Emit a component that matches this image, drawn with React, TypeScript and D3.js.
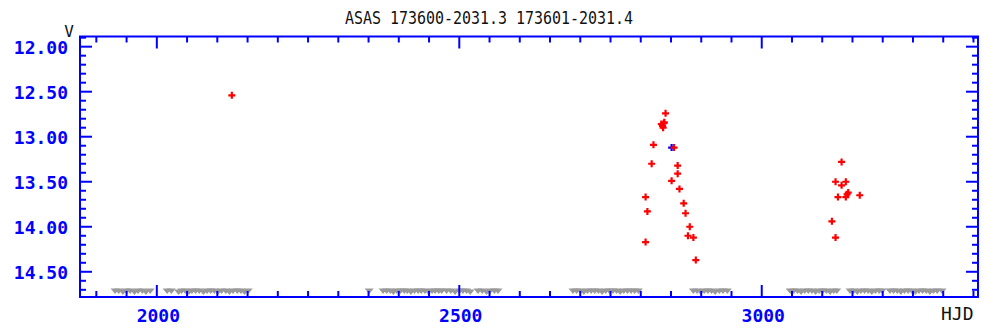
import React from "react";
import * as d3 from "d3";

// ASAS light curve, V magnitude against HJD - 2450000
const title = "ASAS 173600-2031.3 173601-2031.4";
const xTickLabels = [2000, 2500, 3000];
const yTickLabels = [12.0, 12.5, 13.0, 13.5, 14.0, 14.5];

// good measurements (red)
const detections: [number, number][] = [
  [2124, 12.54],
  [2841, 12.74],
  [2834, 12.86],
  [2836, 12.88],
  [2837, 12.9],
  [2838, 12.85],
  [2839, 12.84],
  [2821, 13.09],
  [2855, 13.12],
  [2818, 13.3],
  [2861, 13.32],
  [2861, 13.41],
  [2851, 13.49],
  [2864, 13.58],
  [2808, 13.67],
  [2871, 13.74],
  [2811, 13.83],
  [2874, 13.85],
  [2881, 14.0],
  [2878, 14.1],
  [2887, 14.12],
  [2808, 14.17],
  [2891, 14.37],
  [3132, 13.28],
  [3122, 13.5],
  [3139, 13.5],
  [3132, 13.54],
  [3143, 13.62],
  [3141, 13.64],
  [3162, 13.65],
  [3126, 13.67],
  [3139, 13.67],
  [3116, 13.94],
  [3122, 14.12],
];

// second camera (blue)
const detections2: [number, number][] = [[2851, 13.12]];

// fainter-than limits (grey)
const limits: [number, number][] = [
  [1931, 14.72], [1937, 14.72], [1944, 14.73], [1950, 14.72], [1956, 14.72],
  [1963, 14.73], [1969, 14.72], [1976, 14.72], [1982, 14.73], [1989, 14.72],
  [2017, 14.72], [2024, 14.72], [2036, 14.73], [2041, 14.72], [2047, 14.72],
  [2053, 14.73], [2058, 14.72], [2064, 14.72], [2070, 14.72], [2077, 14.73],
  [2083, 14.72], [2089, 14.72], [2095, 14.72], [2101, 14.73], [2107, 14.72],
  [2114, 14.72], [2120, 14.73], [2126, 14.72], [2133, 14.72], [2139, 14.72],
  [2145, 14.73], [2151, 14.72],
  [2351, 14.72],
  [2374, 14.72], [2380, 14.72], [2386, 14.72], [2391, 14.73], [2397, 14.72],
  [2403, 14.72], [2409, 14.72], [2414, 14.72], [2420, 14.73], [2426, 14.72],
  [2432, 14.72], [2437, 14.72], [2443, 14.72], [2449, 14.73], [2455, 14.72],
  [2460, 14.72], [2466, 14.72], [2471, 14.72],
  [2479, 14.72], [2486, 14.72], [2493, 14.73], [2500, 14.72], [2506, 14.72],
  [2512, 14.72], [2518, 14.73],
  [2531, 14.72], [2538, 14.72], [2545, 14.73], [2551, 14.72], [2558, 14.72],
  [2564, 14.72],
  [2688, 14.72], [2694, 14.72], [2700, 14.72], [2706, 14.73], [2712, 14.72],
  [2718, 14.72], [2724, 14.72], [2730, 14.72], [2736, 14.73], [2742, 14.72],
  [2748, 14.72], [2754, 14.72], [2760, 14.72], [2766, 14.73], [2772, 14.72],
  [2778, 14.72], [2784, 14.72], [2790, 14.72], [2796, 14.72],
  [2887, 14.72], [2893, 14.72], [2899, 14.73], [2905, 14.72], [2911, 14.72],
  [2917, 14.72], [2923, 14.73], [2930, 14.72], [2936, 14.72], [2943, 14.72],
  [3047, 14.72], [3053, 14.72], [3059, 14.72], [3065, 14.73], [3071, 14.72],
  [3077, 14.72], [3083, 14.72], [3089, 14.73], [3095, 14.72], [3101, 14.72],
  [3107, 14.72], [3113, 14.73], [3119, 14.72], [3124, 14.72],
  [3146, 14.72], [3152, 14.72], [3158, 14.73], [3164, 14.72], [3170, 14.72],
  [3176, 14.72], [3182, 14.73], [3188, 14.72], [3194, 14.72], [3199, 14.72],
  [3212, 14.72], [3218, 14.72], [3224, 14.72], [3230, 14.73], [3236, 14.72],
  [3242, 14.72], [3248, 14.72], [3254, 14.73], [3260, 14.72], [3266, 14.72],
  [3272, 14.72], [3278, 14.73], [3284, 14.72], [3290, 14.72], [3298, 14.72],
];

const width = 984;
const height = 330;
const left = 80;
const right = 978;
const top = 36.5;
const bottom = 297;
const blue = "#0000ff";
const mono = "'DejaVu Sans Mono', 'Liberation Mono', monospace";

export default function App() {
  const x = d3.scaleLinear().domain([1873, 3357.5]).range([left, right]);
  const y = d3.scaleLinear().domain([11.887, 14.78]).range([top, bottom]);

  // minor ticks every 50 days / 0.1 mag, long ones every 500 days / 0.5 mag
  const xTicks = d3.range(1900, 3357, 50);
  const yTicks = d3.range(0, 29).map((i) => +(11.9 + i * 0.1).toFixed(1));
  const isMajorX = (v: number) => v % 500 === 0;
  const isMajorY = (v: number) => Math.abs(v * 2 - Math.round(v * 2)) < 1e-6;

  const plus = (cx: number, cy: number) =>
    `M${cx - 3.5},${cy}H${cx + 3.5}M${cx},${cy - 3.5}V${cy + 3.5}`;
  const tri = (cx: number, cy: number) =>
    `M${cx - 4.5},${cy - 3}L${cx + 4.5},${cy - 3}L${cx},${cy + 2.5}Z`;

  return (
    <svg
      width={width}
      height={height}
      style={{ position: "absolute", left: 0, top: 0, background: "#fff" }}
    >
      <text
        x={489}
        y={24}
        textAnchor="middle"
        fontFamily={mono}
        fontSize={17.5}
        textLength={288}
        lengthAdjust="spacingAndGlyphs"
        fill="#111"
      >
        {title}
      </text>

      {/* limits */}
      <g fill="#9a9a9a">
        {limits.map(([h, m], i) => (
          <path key={i} d={tri(x(h), y(m))} />
        ))}
      </g>

      {/* frame */}
      <rect
        x={left}
        y={top}
        width={right - left}
        height={bottom - top}
        fill="none"
        stroke={blue}
        strokeWidth={2}
      />

      <g stroke={blue} strokeWidth={2}>
        {xTicks.map((t) => {
          const len = isMajorX(t) ? 12 : 6;
          return (
            <g key={t}>
              <line x1={x(t)} x2={x(t)} y1={bottom} y2={bottom - len} />
              <line x1={x(t)} x2={x(t)} y1={top} y2={top + len} />
            </g>
          );
        })}
        {yTicks.map((t) => {
          const len = isMajorY(t) ? 12 : 6;
          return (
            <g key={t}>
              <line x1={left} x2={left + len} y1={y(t)} y2={y(t)} />
              <line x1={right} x2={right - len} y1={y(t)} y2={y(t)} />
            </g>
          );
        })}
      </g>

      <g fontFamily={mono} fontSize={18} fontWeight="bold" fill={blue}>
        {yTickLabels.map((t) => (
          <text key={t} x={68} y={y(t) + 7} textAnchor="end">
            {t.toFixed(2)}
          </text>
        ))}
        {xTickLabels.map((t) => (
          <text key={t} x={x(t) + 1.5} y={322} textAnchor="middle">
            {t}
          </text>
        ))}
      </g>

      <text x={69} y={37} textAnchor="middle" fontFamily={mono} fontSize={16} fill="#111">
        V
      </text>
      <text x={941} y={320} fontFamily={mono} fontSize={18} fill="#111">
        HJD
      </text>

      {/* detections */}
      <g stroke="#0000ff" strokeWidth={2.2} fill="none">
        {detections2.map(([h, m], i) => (
          <path key={i} d={plus(x(h), y(m))} />
        ))}
      </g>
      <g stroke="#ff0000" strokeWidth={2.2} fill="none">
        {detections.map(([h, m], i) => (
          <path key={i} d={plus(x(h), y(m))} />
        ))}
      </g>
    </svg>
  );
}
